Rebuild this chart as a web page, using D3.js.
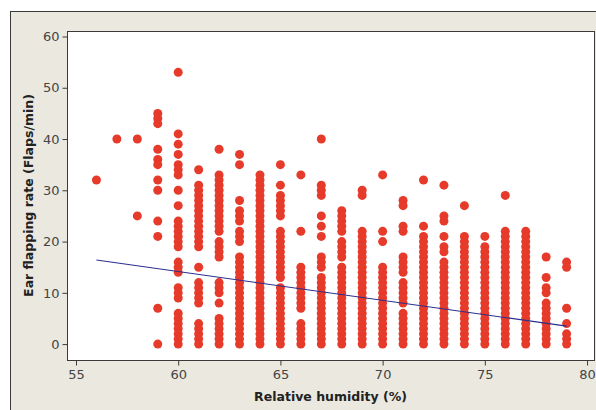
<!DOCTYPE html>
<html lang="en">
	<head>
		<meta charset="utf-8">
		<title>Ear flapping rate vs relative humidity</title>
		<script type="text/javascript" src="https://cdn.jsdelivr.net/npm/d3@7"></script>
		<style type="text/css">
			body { margin: 0; background: #fff; }
			text { font-family: "DejaVu Sans", Verdana, sans-serif; }
		</style>
	</head>
	<body>
		<script type="text/javascript">

			// humidity columns (%) and the flapping rates seen in each column
			var humidity = [56, 57, 58, 59, 60, 61, 62, 63, 64, 65, 66, 67,
							68, 69, 70, 71, 72, 73, 74, 75, 76, 77, 78, 79];

			var flapRates = [
				[32],
				[40],
				[40, 25],
				[45, 44, 43, 38, 36, 35, 32, 30, 24, 21, 7, 0],
				[53, 41, 39, 37, 35, 34, 33, 30, 27, 24, 23, 22, 21, 20, 19, 16, 15, 14, 11, 10, 9, 6, 5, 4, 3, 2, 1, 0],
				[34, 31, 30, 29, 28, 27, 26, 25, 24, 23, 22, 21, 20, 19, 15, 12, 11, 10, 9, 8, 4, 3, 2, 1, 0],
				[38, 33, 32, 31, 30, 29, 28, 27, 26, 25, 24, 23, 22, 20, 19, 18, 17, 12, 11, 10, 8, 5, 4, 3, 2, 1, 0],
				[37, 35, 28, 26, 25, 24, 22, 21, 20, 17, 16, 15, 14, 13, 12, 11, 10, 9, 8, 7, 6, 5, 4, 3, 2, 1, 0],
				[33, 32, 31, 30, 29, 28, 27, 26, 25, 24, 23, 22, 21, 20, 19, 18, 17, 16, 15, 14, 13, 12, 11, 10, 9, 8, 7, 6, 5, 4, 3, 2, 1, 0],
				[35, 31, 29, 28, 27, 26, 25, 22, 21, 20, 19, 18, 17, 16, 15, 14, 13, 11, 10, 9, 8, 7, 6, 5, 4, 3, 2, 1, 0],
				[33, 22, 15, 14, 13, 12, 11, 10, 9, 8, 7, 4, 3, 2, 1, 0],
				[40, 31, 30, 29, 25, 23, 21, 17, 16, 15, 13, 12, 11, 10, 9, 8, 7, 6, 5, 4, 3, 2, 1, 0],
				[26, 25, 24, 23, 22, 20, 19, 18, 17, 15, 14, 13, 12, 11, 10, 9, 8, 7, 6, 5, 4, 3, 2, 1, 0],
				[30, 29, 22, 21, 20, 19, 18, 17, 16, 15, 14, 13, 12, 11, 10, 9, 8, 7, 6, 5, 4, 3, 2, 1, 0],
				[33, 22, 20, 15, 14, 13, 12, 11, 10, 9, 8, 7, 6, 5, 4, 3, 2, 1, 0],
				[28, 27, 23, 22, 17, 16, 15, 14, 12, 11, 10, 9, 8, 6, 5, 4, 3, 2, 1, 0],
				[32, 23, 21, 20, 19, 18, 17, 16, 15, 14, 13, 12, 11, 10, 9, 8, 7, 6, 5, 4, 3, 2, 1, 0],
				[31, 25, 24, 21, 19, 18, 16, 15, 14, 13, 12, 11, 10, 9, 8, 7, 6, 5, 4, 3, 2, 1, 0],
				[27, 21, 20, 19, 18, 17, 16, 15, 14, 13, 12, 11, 10, 9, 8, 7, 6, 5, 4, 3, 2, 1, 0],
				[21, 19, 18, 17, 16, 15, 14, 13, 12, 11, 10, 9, 8, 7, 6, 5, 4, 3, 2, 1, 0],
				[29, 22, 21, 20, 19, 18, 17, 16, 15, 14, 13, 12, 11, 10, 9, 8, 7, 6, 5, 4, 3, 2, 1, 0],
				[22, 21, 20, 19, 18, 17, 16, 15, 14, 13, 12, 11, 10, 9, 8, 7, 6, 5, 4, 3, 2, 1, 0],
				[17, 13, 11, 10, 8, 7, 6, 5, 4, 3, 2, 1, 0],
				[16, 15, 7, 4, 2, 1, 0]
			];

			// fitted line, read at its two ends
			var fitX = [56, 79];
			var fitY = [16.4, 3.5];

			var xTicks = [55, 60, 65, 70, 75, 80];
			var yTicks = [0, 10, 20, 30, 40, 50, 60];

			var w = 596;
			var h = 410;

			// plot box (avoid the name "top": it is window.top)
			var pLeft = 67, pRight = 594, pTop = 31, pBottom = 360;

			var xScale = d3.scaleLinear()
							.domain([54.56, 80.34])
							.range([pLeft, pRight]);

			var yScale = d3.scaleLinear()
							.domain([-3.1, 61.07])
							.range([pBottom, pTop]);

			var svg = d3.select("body")
						.append("svg")
						.attr("width", w)
						.attr("height", h);

			// beige outer frame
			svg.append("rect")
				.attr("x", 10.5)
				.attr("y", 11.5)
				.attr("width", 600)
				.attr("height", 420)
				.attr("fill", "#ebe8df")
				.attr("stroke", "#3a3a3a");

			// plot area
			svg.append("rect")
				.attr("x", pLeft + 0.5)
				.attr("y", pTop + 0.5)
				.attr("width", pRight - pLeft)
				.attr("height", pBottom - pTop)
				.attr("fill", "#fff")
				.attr("stroke", "#3a3a3a");

			//Axes
			var xAxis = d3.axisBottom(xScale)
							.tickValues(xTicks)
							.tickSizeInner(5)
							.tickSizeOuter(0)
							.tickPadding(4);

			var yAxis = d3.axisLeft(yScale)
							.tickValues(yTicks)
							.tickSizeInner(5)
							.tickSizeOuter(0)
							.tickPadding(3);

			var gx = svg.append("g")
				.attr("transform", "translate(0," + (pBottom + 0.5) + ")")
				.call(xAxis);

			var gy = svg.append("g")
				.attr("transform", "translate(" + (pLeft + 0.5) + ",0)")
				.call(yAxis);

			[gx, gy].forEach(function(g) {
				g.select(".domain").remove();
				g.selectAll(".tick line").attr("stroke", "#3a3a3a");
				g.selectAll(".tick text")
					.attr("fill", "#444")
					.attr("font-size", "13px")
					.attr("font-family", "DejaVu Sans, Verdana, sans-serif");
			});

			//Points
			var points = [];
			humidity.forEach(function(hu, i) {
				flapRates[i].forEach(function(r) {
					points.push({ x: hu, y: r });
				});
			});

			svg.append("g")
				.selectAll("circle")
				.data(points)
				.enter()
				.append("circle")
				.attr("cx", function(d) { return xScale(d.x); })
				.attr("cy", function(d) { return yScale(d.y); })
				.attr("r", 4.5)
				.attr("fill", "#e63a2a");

			//Fit line
			svg.append("line")
				.attr("x1", xScale(fitX[0]))
				.attr("y1", yScale(fitY[0]))
				.attr("x2", xScale(fitX[1]))
				.attr("y2", yScale(fitY[1]))
				.attr("stroke", "#2b2f8f")
				.attr("stroke-width", 1.1);

			//Axis titles
			svg.append("text")
				.attr("x", (pLeft + pRight) / 2)
				.attr("y", 401)
				.attr("text-anchor", "middle")
				.attr("font-size", "12.5px")
				.attr("font-weight", "bold")
				.attr("fill", "#222")
				.text("Relative humidity (%)");

			svg.append("text")
				.attr("transform", "translate(33," + ((pTop + pBottom) / 2) + ") rotate(-90)")
				.attr("text-anchor", "middle")
				.attr("font-size", "12.5px")
				.attr("font-weight", "bold")
				.attr("fill", "#222")
				.text("Ear flapping rate (Flaps/min)");

		</script>
	</body>
</html>
